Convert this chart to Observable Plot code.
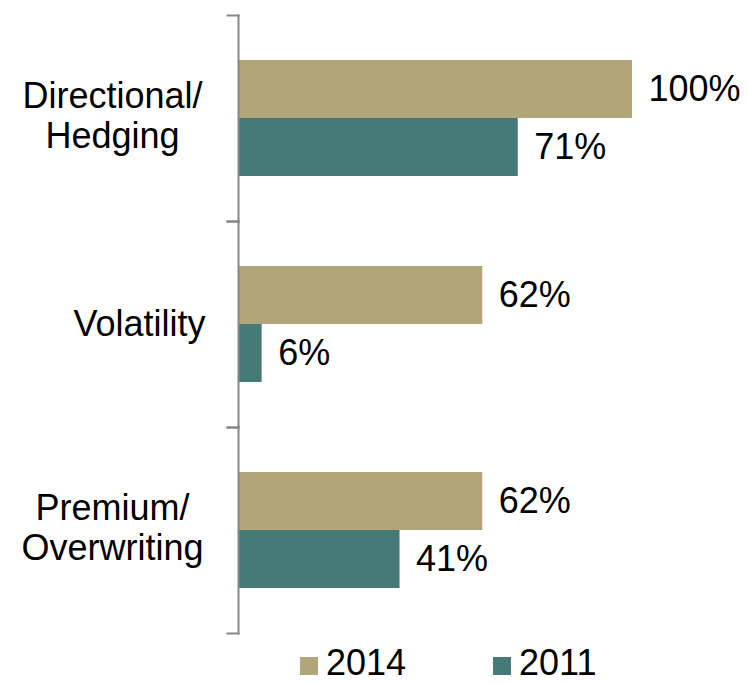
<!DOCTYPE html>
<html>
<head>
<meta charset="utf-8">
<script src="https://cdn.jsdelivr.net/npm/d3@7"></script>
<script src="https://cdn.jsdelivr.net/npm/@observablehq/plot@0.6"></script>
<style>
  body { margin: 0; background: #fff; font-family: "Liberation Sans", Arial, sans-serif; }
  #chart { width: 748px; }
  .legend { position: relative; height: 45px; width: 748px; font-size: 36px; color: #000; }
  .legend .item { position: absolute; top: 0; display: flex; align-items: center; height: 45px; }
  .legend .sw { width: 18px; height: 18px; margin-right: 8px; margin-top: 6px; }
</style>
</head>
<body>
<div id="chart"></div>
<script>
const categories = ["Directional/\nHedging", "Volatility", "Premium/\nOverwriting"];
const years = ["2014", "2011"];
const values2014 = [100, 62, 62];
const values2011 = [71, 6, 41];
const colors = ["#b1a57a", "#457a78"];

const data = [];
categories.forEach((c, i) => {
  data.push({category: c, year: "2014", value: values2014[i]});
  data.push({category: c, year: "2011", value: values2011[i]});
});
const multiLine = categories.filter(c => c.includes("\n"));
const singleLine = categories.filter(c => !c.includes("\n"));

const font = "Liberation Sans, Arial, sans-serif";

const plot = Plot.plot({
  width: 748,
  height: 640,
  marginLeft: 238,
  marginRight: 116,
  marginTop: 15,
  marginBottom: 7,
  facet: {marginTop: 0, marginRight: 0, marginBottom: 0, marginLeft: 0},
  style: {fontFamily: font, background: "#fff"},
  x: {domain: [0, 100], axis: null},
  y: {domain: years, paddingInner: 0, paddingOuter: 0.746, axis: null},
  fy: {domain: categories, padding: 0, axis: null},
  color: {domain: years, range: colors},
  marks: [
    Plot.barX(data, {x: "value", y: "year", fy: "category", fill: "year"}),
    Plot.text(data, {x: "value", y: "year", fy: "category", text: d => d.value + "%",
      textAnchor: "start", dx: 16, fontSize: 36, fill: "#000"}),
    Plot.text(multiLine, {fy: d => d, text: d => d, frameAnchor: "left", textAnchor: "middle",
      dx: -126, dy: -3, fontSize: 36, lineHeight: 1.1, fill: "#000"}),
    Plot.text(singleLine, {fy: d => d, text: d => d, frameAnchor: "left", textAnchor: "end",
      dx: -33, fontSize: 36, fill: "#000"}),
    Plot.frame({anchor: "left", stroke: "#878787", strokeWidth: 2, strokeOpacity: 1}),
    Plot.frame({anchor: "top", stroke: "#878787", strokeWidth: 2, strokeOpacity: 1, insetLeft: -11, insetRight: 394}),
    Plot.frame({anchor: "bottom", stroke: "#878787", strokeWidth: 2, strokeOpacity: 1, insetLeft: -11, insetRight: 394})
  ]
});
document.getElementById("chart").appendChild(plot);

const legend = document.createElement("div");
legend.className = "legend";
const lefts = [300, 493];
years.forEach((y, i) => {
  const item = document.createElement("div");
  item.className = "item";
  item.style.left = lefts[i] + "px";
  const sw = document.createElement("span");
  sw.className = "sw";
  sw.style.background = colors[i];
  const t = document.createElement("span");
  t.textContent = y;
  item.appendChild(sw);
  item.appendChild(t);
  legend.appendChild(item);
});
document.body.appendChild(legend);
</script>
</body>
</html>
